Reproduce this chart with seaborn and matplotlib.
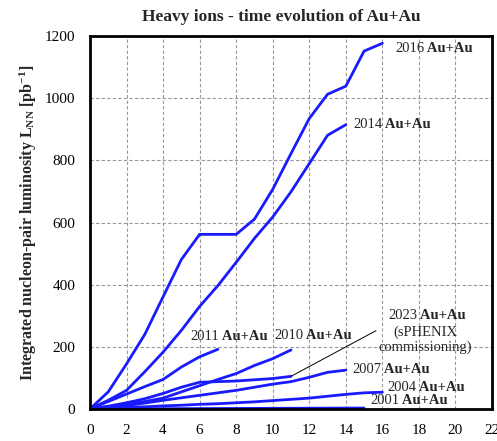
import matplotlib
matplotlib.use("Agg")
import matplotlib.pyplot as plt
import seaborn as sns
import pandas as pd

# Integrated luminosity per run vs. week of the run
weeks_2016 = [0, 1, 2, 3, 4, 5, 6, 7, 8, 9, 10, 11, 12, 13, 14, 15, 16]
lumi_2016 = [0, 55, 145, 240, 361, 481, 562, 562, 562, 611, 707, 822, 935, 1013, 1039, 1152, 1177]

weeks_2014 = [0, 1, 2, 3, 4, 5, 6, 7, 8, 9, 10, 11, 12, 13, 14]
lumi_2014 = [0, 28, 60, 120, 183, 253, 330, 397, 472, 549, 618, 699, 790, 881, 915]

weeks_2011 = [0, 1, 2, 3, 4, 5, 6, 7]
lumi_2011 = [0, 24, 48, 72, 95, 135, 168, 192]

weeks_2010 = [0, 1, 2, 3, 4, 5, 6, 7, 8, 9, 10, 11]
lumi_2010 = [0, 7, 15, 24, 35, 55, 75, 95, 114, 140, 162, 190]

weeks_2023 = [0, 1, 2, 3, 4, 5, 6, 7, 8, 9, 10, 11]
lumi_2023 = [0, 9, 20, 33, 50, 70, 86, 88, 90, 94, 98, 105]

weeks_2007 = [0, 1, 2, 3, 4, 5, 6, 7, 8, 9, 10, 11, 12, 13, 14]
lumi_2007 = [0, 5, 11, 19, 28, 36, 44, 52, 60, 70, 80, 88, 102, 118, 125]

weeks_2004 = [0, 1, 2, 3, 4, 5, 6, 7, 8, 9, 10, 11, 12, 13, 14, 15, 16]
lumi_2004 = [0, 2, 5, 7, 10, 12, 15, 17, 20, 23, 27, 31, 35, 41, 47, 52, 54]

weeks_2001 = [0, 1, 2, 3, 4, 5, 6, 7, 8, 9, 10, 11, 12, 13, 14, 15]
lumi_2001 = [0, 0.2, 0.4, 0.7, 0.9, 1.1, 1.3, 1.5, 1.7, 1.9, 2.1, 2.3, 2.5, 2.7, 2.9, 3.0]

runs = {
    "2016": (weeks_2016, lumi_2016),
    "2014": (weeks_2014, lumi_2014),
    "2011": (weeks_2011, lumi_2011),
    "2010": (weeks_2010, lumi_2010),
    "2023": (weeks_2023, lumi_2023),
    "2007": (weeks_2007, lumi_2007),
    "2004": (weeks_2004, lumi_2004),
    "2001": (weeks_2001, lumi_2001),
}

x_ticks = list(range(0, 23, 2))
y_ticks = list(range(0, 1201, 200))

sns.set_theme(style="white")
plt.rcParams["font.family"] = ["Liberation Serif", "DejaVu Serif"]
plt.rcParams["mathtext.fontset"] = "custom"
plt.rcParams["mathtext.rm"] = "Liberation Serif"
plt.rcParams["mathtext.bf"] = "Liberation Serif:bold"
plt.rcParams["mathtext.it"] = "Liberation Serif:italic"

fig = plt.figure(figsize=(4.97, 4.41), dpi=100)
ax = fig.add_axes([0.181, 0.0726, 0.809, 0.8454])

frames = []
for year, (wk, lum) in runs.items():
    frames.append(pd.DataFrame({"week": wk, "lumi": lum, "run": year}))
df = pd.concat(frames, ignore_index=True)

for year in runs:
    sub = df[df["run"] == year]
    sns.lineplot(data=sub, x="week", y="lumi", ax=ax, color="#1a1aff",
                 linewidth=2.0, sort=False, legend=False)

ax.set_xlim(0, 22)
ax.set_ylim(0, 1200)
ax.set_xticks(x_ticks)
ax.set_yticks(y_ticks)
ax.tick_params(axis="both", labelsize=11, direction="in", length=4,
               width=1, colors="black")
ax.tick_params(axis="x", pad=10.5)
ax.tick_params(axis="y", pad=10.5)
ax.grid(True, color="#999999", linestyle=(0, (3, 2)), linewidth=0.8)
ax.set_axisbelow(True)
for sp in ax.spines.values():
    sp.set_visible(True)
    sp.set_color("black")
    sp.set_linewidth(2.0)

ax.set_xlabel("")
ax.set_ylabel(r"Integrated nucleon-pair luminosity $\mathbf{L_{NN}}$ [pb$^{\mathbf{-1}}$]",
              fontsize=11.5, fontweight="bold", labelpad=4)

fig.text(0.566, 0.962, "Heavy ions - time evolution of Au+Au",
         ha="center", va="center", fontsize=12.5, fontweight="bold")


def run_label(x, y, year, size=10.5):
    t = ax.text(x, y, year, fontsize=size, ha="left", va="center")
    ax.annotate(" Au+Au", xy=(1, 0), xycoords=t, ha="left", va="bottom",
                fontsize=size, fontweight="bold")


run_label(16.7, 1160, "2016")
run_label(14.4, 917, "2014")
run_label(5.47, 234, "2011")
run_label(10.07, 236, "2010")
run_label(14.35, 126, "2007")
run_label(16.28, 68, "2004")
run_label(15.33, 26, "2001")

# 2023 label block with leader line
run_label(16.31, 300, "2023")
ax.text(18.33, 248, "(sPHENIX", fontsize=10.5, ha="center", va="center")
ax.text(18.33, 199, "commissioning)", fontsize=10.5, ha="center", va="center")
ax.plot([weeks_2023[-1], 15.65], [lumi_2023[-1], 252], color="black", linewidth=0.7)

fig.savefig("out.png", dpi=100)
